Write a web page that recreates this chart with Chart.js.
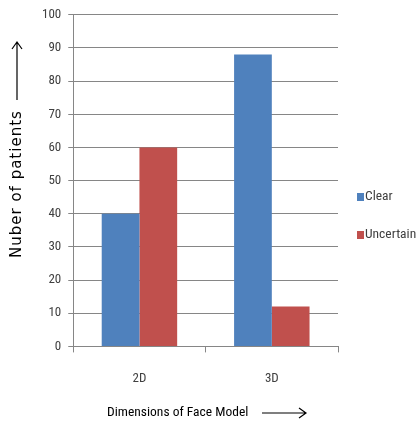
<!DOCTYPE html>
<html lang="en">
<head>
  <meta charset="UTF-8" />
  <title>Dimensions of Face Model</title>
  <script src="https://cdn.jsdelivr.net/npm/chart.js"></script>
  <style>
    html, body { margin: 0; padding: 0; background: #ffffff; }
    #wrap { width: 416px; height: 423px; position: relative; }
  </style>
</head>
<body>
  <div id="wrap"><canvas id="faceChart" width="416" height="423"></canvas></div>
  <script>
    const categories = ['2D', '3D'];
    const clearValues = [40, 88];
    const uncertainValues = [60, 12];
    const seriesNames = ['Clear', 'Uncertain'];
    const seriesColors = ['#4F81BD', '#C0504D'];
    const yTitle = 'Nuber of patients';
    const xTitle = 'Dimensions of Face Model';

    const narrow = '"Roboto Condensed", "Open Sans", sans-serif';

    // axis titles with the little arrows + the Excel-style legend on the right
    const sheetDecor = {
      id: 'sheetDecor',
      afterDraw(chart) {
        const ctx = chart.ctx;
        ctx.save();
        ctx.fillStyle = '#000';
        ctx.strokeStyle = '#000';
        ctx.lineWidth = 1.2;

        // legend, taken from the datasets
        ctx.font = '13.5px ' + narrow;
        ctx.textAlign = 'left';
        ctx.textBaseline = 'middle';
        chart.data.datasets.forEach((ds, i) => {
          const y = 197 + i * 38;
          ctx.fillStyle = ds.backgroundColor;
          ctx.fillRect(357, y - 4, 7, 8);
          ctx.fillStyle = '#404040';
          ctx.fillText(ds.label, 365, y);
        });

        // x title + right arrow
        ctx.fillStyle = '#000';
        ctx.fillText(xTitle, 107, 413);
        ctx.beginPath();
        ctx.moveTo(262, 413); ctx.lineTo(306, 413);
        ctx.moveTo(299, 408); ctx.lineTo(306, 413); ctx.lineTo(299, 418);
        ctx.stroke();

        // y title rotated + up arrow
        ctx.translate(17, 0);
        ctx.rotate(-Math.PI / 2);
        ctx.font = '15px "DejaVu Sans", Verdana, sans-serif';
        ctx.letterSpacing = '1px';
        ctx.fillText(yTitle, -258, 0);
        ctx.letterSpacing = '0px';
        ctx.beginPath();
        ctx.moveTo(-100, 0); ctx.lineTo(-42, 0);
        ctx.moveTo(-49, -5); ctx.lineTo(-42, 0); ctx.lineTo(-49, 5);
        ctx.stroke();
        ctx.restore();
      }
    };

    new Chart(document.getElementById('faceChart').getContext('2d'), {
      type: 'bar',
      data: {
        labels: categories,
        datasets: [
          { label: seriesNames[0], data: clearValues, backgroundColor: seriesColors[0] },
          { label: seriesNames[1], data: uncertainValues, backgroundColor: seriesColors[1] }
        ]
      },
      options: {
        responsive: false,
        animation: false,
        categoryPercentage: 0.57,
        barPercentage: 1.0,
        layout: { padding: { left: 35, top: 14, right: 78, bottom: 17 } },
        plugins: {
          tooltip: { enabled: false },
          legend: { display: false }
        },
        scales: {
          x: {
            grid: { drawOnChartArea: false, offset: true, tickLength: 6, color: '#868686' },
            border: { color: '#868686' },
            ticks: { color: '#404040', padding: 19, font: { family: narrow, size: 13 } }
          },
          y: {
            min: 0,
            max: 100,
            ticks: { stepSize: 10, color: '#404040', padding: 7, font: { family: narrow, size: 13 } },
            grid: { color: '#868686', tickLength: 5 },
            border: { color: '#868686' }
          }
        }
      },
      plugins: [sheetDecor]
    });
  </script>
</body>
</html>
